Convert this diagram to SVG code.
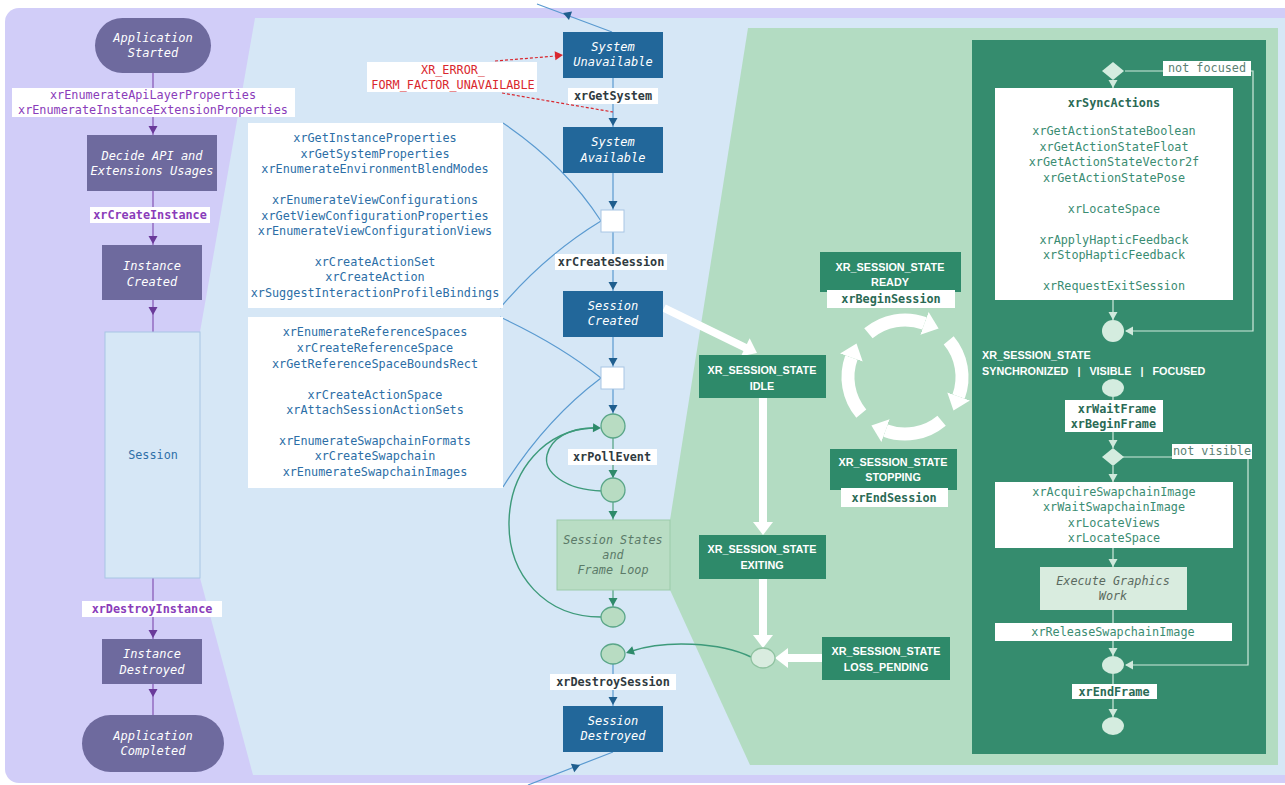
<svg xmlns="http://www.w3.org/2000/svg" xmlns:xlink="http://www.w3.org/1999/xlink" width="1285" height="785" viewBox="0 0 1285 785">
<style>
.m{font-family:"DejaVu Sans Mono","Liberation Mono",monospace;font-size:11.8px;text-anchor:middle}
.it{font-style:italic;fill:#fff;font-size:12px}
.pu{fill:#8a3cba}
.bl{fill:#2c6ea6}
.dk{fill:#2f3a40;font-weight:bold}
.te{fill:#3a8c72}
.gb{fill:#2a6a55;font-weight:bold}
.gy{fill:#5b7f73}
.st{font-family:"Liberation Sans",Arial,sans-serif;font-size:10.8px;font-weight:bold;fill:#fff;text-anchor:middle}
.start{text-anchor:start}
.end{text-anchor:end}
.pn{fill:#6e6a9e}
.bn{fill:#22679a}
.sn{fill:#2e8a6a}
.wl{fill:#fff}
.pl{stroke:#8a5cb8;stroke-width:1.3;fill:none}
.bline{stroke:#5a9ad0;stroke-width:1.2;fill:none}
.gline{stroke:#5aa688;stroke-width:1.3;fill:none}
.loop{stroke:#3d9a7a;stroke-width:1.4;fill:none}
.red{stroke:#d9272e;stroke-width:1.2;stroke-dasharray:3 2;fill:none}
.thick{stroke:#fff;stroke-width:8;fill:none}
.ring{stroke:#fff;stroke-width:13;fill:none;marker-end:url(#cah)}
.pline{stroke:#d0e9dc;stroke-width:1.2;fill:none}
.ell{fill:#b8dcc2;stroke:#5aa688;stroke-width:1.3}
.pell{fill:#d4ecdf}
</style>
<defs>
<path id="ah" d="M0,0 L-8,-4.5 L-8,4.5 Z"/>
<path id="wah" d="M0,0 L-13,-10 L-13,10 Z" fill="#fff"/>
<marker id="cah" markerUnits="userSpaceOnUse" markerWidth="16" markerHeight="26" viewBox="0 -13 16 26" refX="0" refY="0" orient="auto"><path d="M0,-12 L15,0 L0,12 Z" fill="#fff"/></marker>
</defs>

<g id="background">
<rect x="5" y="8" width="1295" height="775" rx="14" fill="#d1cdf8"/>
<polygon points="255,18 1285,18 1285,775 253,775 200,578 200,332" fill="#d6e7f6"/>
<polygon points="748,28 1278,28 1278,765 750,765 670,590 670,520" fill="#b3dcc2"/>
<rect x="972" y="40" width="294" height="714" fill="#358c6e"/>
</g>

<g id="connectors">
<path class="pl" d="M153,72 V135 M153,191 V245 M153,300 V332 M153,578 V639 M153,684 V715"/>
<g fill="#6a3a9a">
<use xlink:href="#ah" transform="translate(153,134) rotate(90)"/>
<use xlink:href="#ah" transform="translate(153,244) rotate(90)"/>
<use xlink:href="#ah" transform="translate(153,315) rotate(90)"/>
<use xlink:href="#ah" transform="translate(153,638) rotate(90)"/>
<use xlink:href="#ah" transform="translate(153,697) rotate(90)"/>
</g>
<path class="bline" d="M613,78 V127 M613,173 V210 M613,232 V291 M613,337 V367 M613,389 V414 M613,664 V706 M537,4 L612,32 M613,752 L528,785"/>
<path class="bline" d="M503,123 Q565,165 601,221 M601,221 Q545,255 500,308 M500,317 Q560,345 601,378 M601,378 Q545,420 503,487"/>
<g fill="#1f5e8e">
<use xlink:href="#ah" transform="translate(613,126) rotate(90)"/>
<use xlink:href="#ah" transform="translate(613,209) rotate(90)"/>
<use xlink:href="#ah" transform="translate(613,290) rotate(90)"/>
<use xlink:href="#ah" transform="translate(613,366) rotate(90)"/>
<use xlink:href="#ah" transform="translate(613,413) rotate(90)"/>
<use xlink:href="#ah" transform="translate(613,705) rotate(90)"/>
<use xlink:href="#ah" transform="translate(563,13) rotate(200)"/>
<use xlink:href="#ah" transform="translate(580,765) rotate(-22)"/>
</g>
<path class="red" d="M495,61 L556,56 M502,93 L613,112"/>
<use xlink:href="#ah" transform="translate(563,55) rotate(-5)" fill="#d9272e"/>
<path class="gline" d="M613,438 V478 M613,502 V520 M613,590 V607"/>
<path class="loop" d="M601,617 C545,617 508,575 509,522 C510,470 545,430 593,428"/>
<path class="loop" d="M602,491 C565,490 543,472 547,455 C551,438 570,428 593,428"/>
<path class="loop" d="M751,657 C720,642 665,640 632,651"/>
<g fill="#2e8a6a">
<use xlink:href="#ah" transform="translate(613,478) rotate(90)"/>
<use xlink:href="#ah" transform="translate(613,519) rotate(90)"/>
<use xlink:href="#ah" transform="translate(613,606) rotate(90)"/>
<use xlink:href="#ah" transform="translate(601,428) rotate(2)"/>
<use xlink:href="#ah" transform="translate(626,653) rotate(162)"/>
</g>
<path class="thick" d="M664,308 L746,348 M763,398 V524 M763,579 V637 M822,658 H787"/>
<use xlink:href="#wah" transform="translate(757,353) rotate(25.8)"/>
<use xlink:href="#wah" transform="translate(763,535) rotate(90)"/>
<use xlink:href="#wah" transform="translate(763,648) rotate(90)"/>
<use xlink:href="#wah" transform="translate(775,658) rotate(180)"/>
<path class="ring" d="M868.4,333.3 A57,57 0 0 1 924.5,323.4"/>
<path class="ring" d="M948.7,340.4 A57,57 0 0 1 958.6,396.5"/>
<path class="ring" d="M941.6,420.7 A57,57 0 0 1 885.5,430.6"/>
<path class="ring" d="M861.3,413.6 A57,57 0 0 1 851.4,357.5"/>
<path class="pline" d="M1113,80 V88 M1125,71 H1253 V331 H1126 M1113,300 V320 M1113,397 V448 M1123,457 H1248 V665 H1126 M1113,466 V482 M1113,548 V567 M1113,610 V656 M1113,674 V717"/>
<g fill="#d0e9dc">
<use xlink:href="#ah" transform="translate(1113,88) rotate(90)"/>
<use xlink:href="#ah" transform="translate(1125,331) rotate(180)"/>
<use xlink:href="#ah" transform="translate(1113,320) rotate(90)"/>
<use xlink:href="#ah" transform="translate(1113,448) rotate(90)"/>
<use xlink:href="#ah" transform="translate(1125,665) rotate(180)"/>
<use xlink:href="#ah" transform="translate(1113,482) rotate(90)"/>
<use xlink:href="#ah" transform="translate(1113,567) rotate(90)"/>
<use xlink:href="#ah" transform="translate(1113,656) rotate(90)"/>
<use xlink:href="#ah" transform="translate(1113,717) rotate(90)"/>
</g>
</g>

<g id="app-started"><rect class="pn" x="95" y="18" width="116" height="55" rx="27.5"/>
<text class="m it" x="153" y="42">Application</text><text class="m it" x="153" y="57">Started</text></g>
<g id="lbl-enum"><rect class="wl" x="12" y="88" width="283" height="29"/>
<text class="m pu" x="153" y="99">xrEnumerateApiLayerProperties</text><text class="m pu" x="153" y="114">xrEnumerateInstanceExtensionProperties</text></g>
<g id="decide"><rect class="pn" x="87" y="135" width="130" height="56"/>
<text class="m it" x="152" y="160">Decide API and</text><text class="m it" x="152" y="175">Extensions Usages</text></g>
<g id="lbl-create-instance"><rect class="wl" x="90" y="207" width="120" height="16"/>
<text class="m pu" x="150" y="219" font-weight="bold">xrCreateInstance</text></g>
<g id="instance-created"><rect class="pn" x="102" y="245" width="100" height="55"/>
<text class="m it" x="152" y="270">Instance</text><text class="m it" x="152" y="286">Created</text></g>
<g id="session"><rect x="105" y="332" width="95" height="246" fill="#d6e7f6" stroke="#a8c6e4" stroke-width="1"/>
<text class="m" x="153" y="459" fill="#2f70a8" font-size="12">Session</text></g>
<g id="lbl-destroy-instance"><rect class="wl" x="82" y="601" width="140" height="16"/>
<text class="m pu" x="152" y="613" font-weight="bold">xrDestroyInstance</text></g>
<g id="instance-destroyed"><rect class="pn" x="102" y="639" width="100" height="45"/>
<text class="m it" x="152" y="658">Instance</text><text class="m it" x="152" y="674">Destroyed</text></g>
<g id="app-completed"><rect class="pn" x="82" y="715" width="142" height="57" rx="28.5"/>
<text class="m it" x="153" y="740">Application</text><text class="m it" x="153" y="755">Completed</text></g>

<g id="api-box-1"><rect class="wl" x="248" y="123" width="255" height="185"/>
<g class="m bl">
<text x="375" y="142">xrGetInstanceProperties</text>
<text x="375" y="158">xrGetSystemProperties</text>
<text x="375" y="173">xrEnumerateEnvironmentBlendModes</text>
<text x="375" y="204">xrEnumerateViewConfigurations</text>
<text x="375" y="220">xrGetViewConfigurationProperties</text>
<text x="375" y="235">xrEnumerateViewConfigurationViews</text>
<text x="375" y="266">xrCreateActionSet</text>
<text x="375" y="281">xrCreateAction</text>
<text x="375" y="297">xrSuggestInteractionProfileBindings</text>
</g></g>
<g id="api-box-2"><rect class="wl" x="248" y="317" width="255" height="171"/>
<g class="m bl">
<text x="375" y="336">xrEnumerateReferenceSpaces</text>
<text x="375" y="352">xrCreateReferenceSpace</text>
<text x="375" y="368">xrGetReferenceSpaceBoundsRect</text>
<text x="375" y="399">xrCreateActionSpace</text>
<text x="375" y="414">xrAttachSessionActionSets</text>
<text x="375" y="445">xrEnumerateSwapchainFormats</text>
<text x="375" y="460">xrCreateSwapchain</text>
<text x="375" y="476">xrEnumerateSwapchainImages</text>
</g></g>

<g id="error-label"><rect class="wl" x="367" y="62" width="170" height="30"/>
<text class="m" x="453" y="74" fill="#d9272e">XR_ERROR_</text><text class="m" x="453" y="89" fill="#d9272e">FORM_FACTOR_UNAVAILABLE</text></g>
<g id="system-unavailable"><rect class="bn" x="563" y="32" width="100" height="46"/>
<text class="m it" x="613" y="51">System</text><text class="m it" x="613" y="66">Unavailable</text></g>
<g id="lbl-get-system"><rect class="wl" x="568" y="88" width="90" height="16"/>
<text class="m dk" x="613" y="100">xrGetSystem</text></g>
<g id="system-available"><rect class="bn" x="563" y="127" width="100" height="46"/>
<text class="m it" x="613" y="146">System</text><text class="m it" x="613" y="162">Available</text></g>
<g id="junction-1"><rect x="601" y="210" width="23" height="22" fill="#fff" stroke="#a8c6e4"/></g>
<g id="lbl-create-session"><rect class="wl" x="555" y="254" width="112" height="16"/>
<text class="m dk" x="611" y="266">xrCreateSession</text></g>
<g id="session-created"><rect class="bn" x="563" y="291" width="100" height="46"/>
<text class="m it" x="613" y="310">Session</text><text class="m it" x="613" y="325">Created</text></g>
<g id="junction-2"><rect x="601" y="367" width="23" height="22" fill="#fff" stroke="#a8c6e4"/></g>
<g id="poll-1"><ellipse class="ell" cx="613" cy="426" rx="12" ry="12"/></g>
<g id="lbl-poll-event"><rect class="wl" x="568" y="449" width="89" height="16"/>
<text class="m dk" x="612" y="461">xrPollEvent</text></g>
<g id="poll-2"><ellipse class="ell" cx="613" cy="490" rx="12" ry="12"/></g>
<g id="session-states"><rect x="557" y="520" width="113" height="70" fill="#b9ddc4" stroke="#9ccbaa"/>
<g class="m" fill="#5b7a68" font-style="italic" font-size="12"><text x="613" y="544">Session States</text><text x="613" y="559">and</text><text x="613" y="574">Frame Loop</text></g></g>
<g id="loop-end"><ellipse class="ell" cx="613" cy="617" rx="12" ry="10"/></g>
<g id="destroy-point"><ellipse class="ell" cx="613" cy="654" rx="12" ry="10"/></g>
<g id="lbl-destroy-session"><rect class="wl" x="550" y="674" width="126" height="16"/>
<text class="m dk" x="613" y="686">xrDestroySession</text></g>
<g id="session-destroyed"><rect class="bn" x="563" y="706" width="100" height="46"/>
<text class="m it" x="613" y="725">Session</text><text class="m it" x="613" y="740">Destroyed</text></g>

<g id="state-idle"><rect class="sn" x="699" y="355" width="127" height="43"/>
<text class="st" x="762" y="374">XR_SESSION_STATE</text><text class="st" x="762" y="390">IDLE</text></g>
<g id="state-exiting"><rect class="sn" x="699" y="535" width="127" height="44"/>
<text class="st" x="762" y="553">XR_SESSION_STATE</text><text class="st" x="762" y="569">EXITING</text></g>
<g id="exit-point"><ellipse cx="763" cy="658" rx="12" ry="10" fill="#d9ecdf" stroke="#8fc2a0" stroke-width="1.3"/></g>
<g id="state-loss-pending"><rect class="sn" x="822" y="637" width="128" height="43"/>
<text class="st" x="886" y="655">XR_SESSION_STATE</text><text class="st" x="886" y="671">LOSS_PENDING</text></g>
<g id="state-ready"><rect class="sn" x="820" y="252" width="141" height="40"/>
<text class="st" x="890" y="271">XR_SESSION_STATE</text><text class="st" x="890" y="286">READY</text>
<rect class="wl" x="827" y="290" width="128" height="18"/>
<text class="m gb" x="891" y="303">xrBeginSession</text></g>
<g id="state-stopping"><rect class="sn" x="830" y="449" width="127" height="41"/>
<text class="st" x="893" y="466">XR_SESSION_STATE</text><text class="st" x="893" y="481">STOPPING</text>
<rect class="wl" x="841" y="488" width="107" height="19"/>
<text class="m gb" x="894" y="502">xrEndSession</text></g>

<g id="focus-check"><polygon points="1102,71 1113,62 1124,71 1113,80" fill="#d4ecdf"/></g>
<g id="lbl-not-focused"><rect class="wl" x="1163" y="61" width="88" height="15"/>
<text class="m gy" x="1207" y="72">not focused</text></g>
<g id="actions-box"><rect class="wl" x="995" y="88" width="238" height="212"/>
<g class="m te">
<text class="gb" x="1114" y="107">xrSyncActions</text>
<text x="1114" y="135">xrGetActionStateBoolean</text>
<text x="1114" y="151">xrGetActionStateFloat</text>
<text x="1114" y="166">xrGetActionStateVector2f</text>
<text x="1114" y="182">xrGetActionStatePose</text>
<text x="1114" y="213">xrLocateSpace</text>
<text x="1114" y="244">xrApplyHapticFeedback</text>
<text x="1114" y="259">xrStopHapticFeedback</text>
<text x="1114" y="290">xrRequestExitSession</text>
</g></g>
<g id="actions-merge"><ellipse class="pell" cx="1113" cy="331" rx="11" ry="11"/></g>
<g id="sync-state"><text class="st start" x="982" y="359" font-size="11">XR_SESSION_STATE</text>
<text class="st start" x="982" y="375" font-size="11" word-spacing="6">SYNCHRONIZED | VISIBLE | FOCUSED</text></g>
<g id="frame-start"><ellipse class="pell" cx="1113" cy="388" rx="11" ry="9"/></g>
<g id="lbl-wait-frame"><rect class="wl" x="1065" y="400" width="98" height="32"/>
<text class="m gb end" x="1156" y="413">xrWaitFrame</text><text class="m gb end" x="1156" y="428">xrBeginFrame</text></g>
<g id="visible-check"><polygon points="1102,457 1113,448 1124,457 1113,466" fill="#d4ecdf"/></g>
<g id="lbl-not-visible"><rect class="wl" x="1172" y="444" width="80" height="15"/>
<text class="m gy" x="1212" y="455">not visible</text></g>
<g id="swapchain-box"><rect class="wl" x="995" y="482" width="238" height="66"/>
<g class="m te">
<text x="1114" y="496">xrAcquireSwapchainImage</text>
<text x="1114" y="511">xrWaitSwapchainImage</text>
<text x="1114" y="527">xrLocateViews</text>
<text x="1114" y="542">xrLocateSpace</text>
</g></g>
<g id="graphics-work"><rect x="1040" y="567" width="147" height="43" fill="#d9ecdf"/>
<text class="m" x="1113" y="585" fill="#5b6a60" font-style="italic" font-size="12">Execute Graphics</text><text class="m" x="1113" y="600" fill="#5b6a60" font-style="italic" font-size="12">Work</text></g>
<g id="lbl-release"><rect class="wl" x="995" y="623" width="237" height="18"/>
<text class="m te" x="1113" y="636">xrReleaseSwapchainImage</text></g>
<g id="frame-merge"><ellipse class="pell" cx="1113" cy="665" rx="11" ry="9"/></g>
<g id="lbl-end-frame"><rect class="wl" x="1072" y="684" width="85" height="15"/>
<text class="m gb" x="1114" y="696">xrEndFrame</text></g>
<g id="frame-end"><ellipse class="pell" cx="1113" cy="726" rx="11" ry="9"/></g>
</svg>
